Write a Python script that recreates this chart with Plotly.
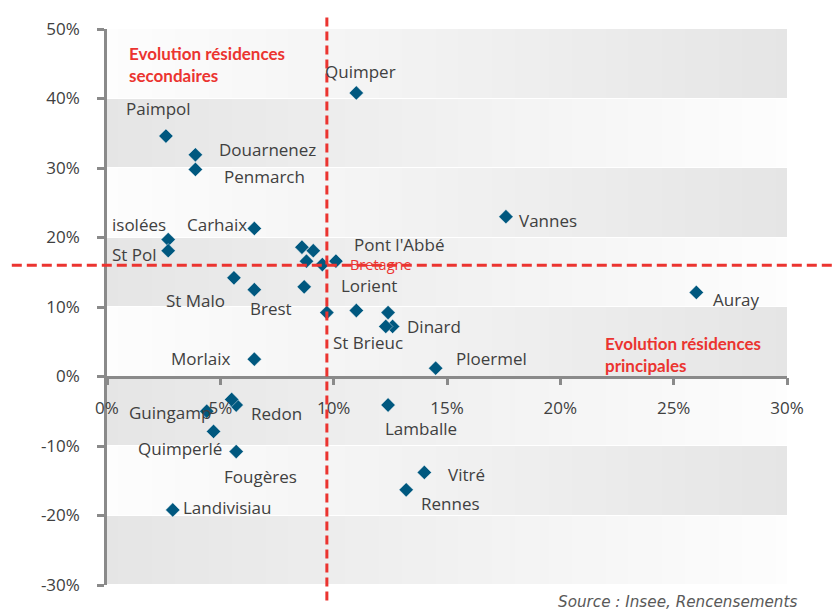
import numpy as np
import plotly.graph_objects as go

# Évolution des résidences principales (x) et secondaires (y), en %
villes = [
    "Quimper", "Paimpol", "Douarnenez", "Penmarch", "Carhaix", "isolées",
    "St Pol", "Vannes", "Pont l'Abbé", "Bretagne", "Lorient", "St Malo",
    "Brest", "Auray", "Dinard", "St Brieuc", "Ploermel", "Morlaix",
    "Guingamp", "Redon", "Lamballe", "Quimperlé", "Fougères", "Vitré",
    "Rennes", "Landivisiau",
    "", "", "", "", "", "", "",
]
res_principales = [
    11.0, 2.6, 3.9, 3.9, 6.5, 2.7,
    2.7, 17.6, 9.1, 9.5, 10.1, 5.6,
    6.5, 26.0, 12.6, 12.3, 14.5, 6.5,
    4.4, 5.7, 12.4, 4.7, 5.7, 14.0,
    13.2, 2.9,
    8.6, 8.8, 8.7, 9.7, 11.0, 12.4, 5.5,
]
res_secondaires = [
    40.8, 34.6, 31.9, 29.8, 21.3, 19.7,
    18.1, 23.0, 18.1, 16.1, 16.6, 14.2,
    12.5, 12.1, 7.2, 7.2, 1.2, 2.5,
    -5.0, -4.1, -4.1, -7.9, -10.8, -13.8,
    -16.3, -19.2,
    18.6, 16.6, 12.9, 9.2, 9.5, 9.2, -3.3,
]

# Moyenne régionale (croisement des axes de référence)
ref_principales = 9.7
ref_secondaires = 16.0

x_ticks = [0, 5, 10, 15, 20, 25, 30]
x_ticktext = ["0%", "5%", "10%", "15%", "20%", "25%", "30%"]
y_ticks = [-30, -20, -10, 0, 10, 20, 30, 40, 50]
y_ticktext = ["-30%", "-20%", "-10%", "0%", "10%", "20%", "30%", "40%", "50%"]

# Décalage des étiquettes (pixels : dx vers la droite, dy vers le bas)
label_offsets = {
    "Quimper": (4, -21), "Paimpol": (-7, -28), "Douarnenez": (72, -5),
    "Penmarch": (69, 7), "Carhaix": (-37, -4), "isolées": (-29, -15),
    "St Pol": (-34, 4), "Vannes": (42, 4), "Pont l'Abbé": (86, -6),
    "Bretagne": (59, 0), "Lorient": (33, 24), "St Malo": (-38, 23),
    "Brest": (17, 19), "Auray": (40, 7), "Dinard": (41, 0),
    "St Brieuc": (-18, 16), "Ploermel": (56, -10), "Morlaix": (-54, -1),
    "Guingamp": (-37, 1), "Redon": (40, 8), "Lamballe": (33, 23),
    "Quimperlé": (-34, 17), "Fougères": (24, 25), "Vitré": (42, 2),
    "Rennes": (44, 14), "Landivisiau": (55, -2),
}

RED = "#eb3430"
BLUE = "#00587f"
TXT = "#404040"
AXIS = "#8a8a8a"

x_min, x_max = x_ticks[0], x_ticks[-1]
y_min, y_max = y_ticks[0], y_ticks[-1]

fig = go.Figure()

# Bandes horizontales alternées avec dégradé gauche/droite
n_cols = 60
x_edges = np.linspace(x_min, x_max, n_cols + 1)
t = (x_edges[:-1] + x_edges[1:]) / 2 / (x_max - x_min)
z = []
for i in range(len(y_ticks) - 1):
    z.append(list(1 - t) if i % 2 == 0 else list(t))
fig.add_trace(go.Heatmap(
    x=x_edges, y=y_ticks, z=z, zmin=0, zmax=1,
    colorscale=[[0, "#fdfdfd"], [1, "#e5e5e5"]],
    showscale=False, hoverinfo="skip", ygap=1,
))

fig.add_trace(go.Scatter(
    x=res_principales, y=res_secondaires, mode="markers",
    marker=dict(symbol="diamond", size=11, color=BLUE,
                line=dict(width=0.6, color="rgba(255,255,255,0.7)")),
    cliponaxis=False, hoverinfo="skip", showlegend=False,
))

label_font = dict(family="Open Sans", size=17, color=TXT)
for name, xv, yv in zip(villes, res_principales, res_secondaires):
    if not name:
        continue
    dx, dy = label_offsets[name]
    font = dict(label_font)
    if name == "Bretagne":
        font = dict(family="Open Sans", size=14.5, color=RED)
    fig.add_annotation(x=xv, y=yv, text=name, showarrow=False,
                       xanchor="center", yanchor="middle",
                       xshift=dx, yshift=-dy, font=font)

# Axes de référence (moyenne Bretagne)
span_x = x_max - x_min
span_y = y_max - y_min
px_ref = (ref_principales - x_min) / span_x
py_ref = (ref_secondaires - y_min) / span_y
fig.add_shape(type="line", xref="paper", yref="paper",
              x0=px_ref, x1=px_ref, y0=-0.028, y1=1.025,
              line=dict(color=RED, width=3, dash="9px,5px"), layer="above")
fig.add_shape(type="line", xref="paper", yref="paper",
              x0=-0.14, x1=1.067, y0=py_ref, y1=py_ref,
              line=dict(color=RED, width=3, dash="10px,5px"), layer="above")

title_font = dict(family="Lato", size=17, color=RED, weight="bold")
fig.add_annotation(xref="paper", yref="paper", x=0.029, y=0.937,
                   text="Evolution résidences<br>secondaires", showarrow=False,
                   xanchor="left", yanchor="middle", align="left",
                   font=title_font)
fig.add_annotation(xref="paper", yref="paper", x=0.729, y=0.414,
                   text="Evolution résidences<br>principales", showarrow=False,
                   xanchor="left", yanchor="middle", align="left",
                   font=title_font)
fig.add_annotation(xref="paper", yref="paper", x=1.0176, y=-0.031,
                   text="Source : Insee, Rencensements", showarrow=False,
                   xanchor="right", yanchor="middle",
                   font=dict(family="DejaVu Sans", size=15.2, color="#595959",
                             style="italic"))

tick_font = dict(family="Open Sans", size=17, color=TXT)
fig.update_xaxes(
    range=[x_min, x_max], tickvals=x_ticks, ticktext=x_ticktext,
    anchor="free", position=(0 - y_min) / span_y,
    showline=True, linecolor=AXIS, linewidth=2.5,
    ticks="outside", ticklen=7, tickwidth=2.5, tickcolor=AXIS,
    showgrid=False, zeroline=False, tickfont=tick_font,
    ticklabelstandoff=8, fixedrange=True,
)
fig.update_yaxes(
    range=[y_min, y_max], tickvals=y_ticks, ticktext=y_ticktext,
    showline=True, linecolor=AXIS, linewidth=2.5,
    ticks="outside", ticklen=7, tickwidth=2.5, tickcolor=AXIS,
    showgrid=False, zeroline=False, tickfont=tick_font,
    ticklabelstandoff=14, fixedrange=True,
)
fig.update_layout(
    width=840, height=610, autosize=False,
    margin=dict(l=107, r=53, t=29, b=25),
    paper_bgcolor="white", plot_bgcolor="white",
    showlegend=False,
)

fig.write_html("out.html")
